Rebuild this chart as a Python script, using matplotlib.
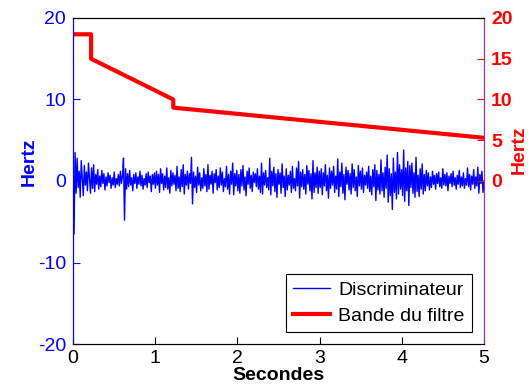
import matplotlib
matplotlib.use("Agg")
import matplotlib.pyplot as plt
import numpy as np

plt.rcParams['font.family'] = ['Liberation Sans', 'DejaVu Sans']
plt.rcParams['axes.unicode_minus'] = False

# discriminator output (Hz), read by eye, one second per list
sig_0 = [0.0, -6.5, 3.5, -1.5, 2.8, -0.8, 1.2, -2.0, 2.5, 0.3, -1.8, 1.9, -0.5, 1.1, -1.2, 2.2,
         0.4, -1.5, 1.6, -0.9, 2.0, -1.3, 0.8, -0.4, 1.4, -1.0, 0.6, -0.7, 1.3, -0.3, 0.9, -1.1,
         0.5, -0.6, 1.0, -0.2, 0.7, -0.9, 0.4, -0.5, 1.1, -0.8, 0.3, -0.4, 0.8, -0.6, 1.2, -0.3,
         0.6, 2.8, -4.8, 1.5, -1.0, 0.9, -0.7, 1.3, -0.5, 0.4, -1.2, 0.8, -0.3, 1.0, -0.9, 0.5,
         -0.4, 1.2, -0.6, 0.7, -1.0, 0.3, -0.5, 0.9, -0.8, 1.1, -0.2, 0.6, -1.3, 0.8, -0.4, 1.0]
sig_1 = [-0.9, 1.2, -0.5, 0.8, -1.4, 1.5, -0.3, 0.9, -1.1, 0.6, -0.8, 1.6, -1.0, 0.4, -1.5, 1.3,
         -0.6, 1.0, -0.4, 0.7, -1.2, 1.8, -0.9, 0.5, -1.3, 1.4, -0.7, 2.0, -1.6, 0.8, -0.5, 1.2,
         -1.0, 0.9, -0.3, 2.9, -2.8, 1.1, -0.8, 0.6, -1.4, 1.7, -0.5, 1.0, -1.2, 0.4, -0.9, 1.5,
         -0.6, 0.8, -1.3, 2.0, -1.0, 0.7, -0.4, 1.2, -1.5, 0.9, -0.2, 1.4, -1.1, 0.6, -0.8, 1.6,
         -0.5, 1.1, -1.3, 0.3, -0.7, 1.8, -1.0, 0.8, -1.6, 1.2, -0.4, 2.2, -1.7, 0.9, -0.6, 1.3]
sig_2 = [-1.2, 0.8, -1.5, 1.4, -0.6, 1.9, -1.1, 0.5, -1.8, 1.2, -0.4, 1.6, -0.9, 0.7, -1.3, 1.1,
         -0.2, 0.9, -0.7, 1.5, -1.0, 0.6, -1.4, 2.2, -1.6, 1.0, -0.5, 1.3, -0.8, 0.4, -1.1, 2.8,
         -1.7, 1.2, -0.6, 1.7, -1.3, 0.9, -2.0, 1.4, -0.4, 1.0, -1.5, 2.1, -0.8, 0.6, -1.9, 1.5,
         -1.1, 0.7, -0.5, 1.2, -1.4, 1.8, -0.9, 0.3, -1.2, 1.6, -0.6, 2.4, -2.1, 1.1, -0.7, 1.4,
         -1.0, 0.8, -1.6, 1.9, -0.4, 1.3, -1.2, 0.9, -2.2, 2.5, -1.4, 1.0, -0.8, 1.7, -1.5, 1.2]
sig_3 = [-0.8, 1.5, -1.7, 1.0, -0.6, 2.0, -1.2, 0.7, -2.1, 1.6, -0.9, 1.2, -0.5, 1.8, -1.4, 0.6,
         -1.0, 2.7, -1.9, 1.1, -0.7, 2.2, -1.5, 0.8, -2.3, 1.7, -0.4, 1.3, -1.1, 0.9, -1.6, 2.1,
         -0.8, 1.4, -1.2, 0.5, -1.9, 1.9, -0.6, 1.2, -1.0, 1.6, -1.4, 0.7, -0.5, 1.1, -0.9, 1.8,
         -1.3, 0.6, -1.7, 1.4, -0.7, 2.0, -2.4, 1.3, -1.1, 0.8, -1.6, 2.6, -1.2, 1.0, -2.0, 1.7,
         -0.9, 3.2, -2.6, 1.5, -1.8, 0.9, -3.5, 2.8, -1.4, 1.1, -2.2, 3.5, -1.6, 2.0, -1.0, 1.4]
sig_4 = [-1.8, 3.8, -2.5, 1.6, -1.2, 2.4, -3.0, 1.9, -0.8, 2.2, -1.5, 1.0, -2.0, 2.9, -1.3, 0.7,
         -1.9, 1.5, -1.0, 2.1, -1.6, 0.8, -1.2, 1.3, -0.6, 1.0, -1.1, 0.5, -0.8, 1.2, -0.4, 0.7,
         -1.0, 0.9, -0.3, 1.1, -0.7, 0.4, -0.9, 1.5, -0.5, 0.8, -0.6, 1.0, -1.2, 0.6, -0.3, 0.9,
         -0.7, 1.2, -0.5, 0.4, -1.0, 0.7, -0.4, 1.3, -0.8, 0.5, -0.6, 1.0, -0.9, 0.3, -0.5, 1.6,
         -0.7, 0.8, -1.1, 0.6, -0.4, 1.4, -0.9, 0.5, -0.6, 1.7, -1.5, 0.8, -0.3, 1.2, -1.4, 0.0]
signal = np.array(sig_0 + sig_1 + sig_2 + sig_3 + sig_4)
t = np.linspace(0, 5, len(signal))

# filter bandwidth (Hz)
band_t = [0, 0.22, 0.22, 1.22, 1.22, 5]
band_v = [18, 18, 15, 10, 9, 5.3]

blue = '#0000ff'
red = '#ff0000'

fig = plt.figure(figsize=(5.31, 3.87), dpi=100)
ax1 = fig.add_axes([0.1375, 0.1111, 0.774, 0.8424])
ax2 = ax1.twinx()

l1, = ax1.plot(t, signal, color=blue, lw=1.0, label='Discriminateur')
l2, = ax2.plot(band_t, band_v, color=red, lw=3, label='Bande du filtre')

for ax in (ax1, ax2):
    ax.set_xlim(0, 5)
    ax.set_ylim(-20, 20)

ax1.set_yticks([-20, -10, 0, 10, 20])
ax2.set_yticks([0, 5, 10, 15, 20])
ax1.set_xticks([0, 1, 2, 3, 4, 5])

ax1.tick_params(axis='y', colors=blue, direction='in', length=5, labelsize=14, pad=5)
ax1.tick_params(axis='x', colors='black', direction='in', length=5, labelsize=14, pad=4)
ax2.tick_params(axis='y', colors=red, direction='in', length=5, labelsize=14, pad=5)
for lab in ax2.get_yticklabels():
    lab.set_fontweight('bold')

ax1.spines['left'].set_color(blue)
ax2.spines['left'].set_color(blue)
ax2.spines['right'].set_color('#9b309b')
ax1.spines['right'].set_color('#9b309b')

ax1.set_ylabel('Hertz', color=blue, fontsize=14, fontweight='bold')
ax1.yaxis.set_label_coords(-0.085, 0.56)
ax2.set_ylabel('Hertz', color=red, fontsize=14, fontweight='bold', rotation=90)
ax2.yaxis.set_label_coords(1.064, 0.595)
ax1.set_xlabel('Secondes', fontsize=14, fontweight='bold', labelpad=0)

leg = ax2.legend([l1, l2], ['Discriminateur', 'Bande du filtre'], loc='lower right',
                 fontsize=14, fancybox=False, framealpha=1, edgecolor='black',
                 borderaxespad=0.6, handlelength=1.9, handletextpad=0.4,
                 borderpad=0.4, labelspacing=0.4)
leg.get_frame().set_linewidth(0.8)

fig.savefig('out.png', dpi=100)
